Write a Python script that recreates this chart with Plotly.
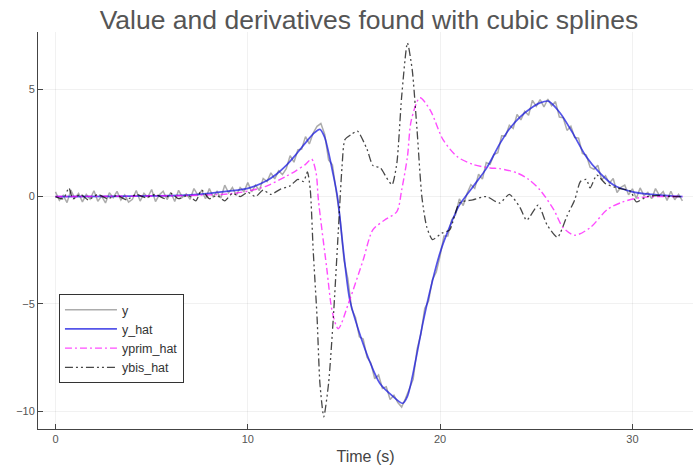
import numpy as np
import plotly.graph_objects as go

# ---- data ----
t_y = np.round(np.arange(0, 32.61, 0.2), 1)
y_vals = [
    0.22, -0.18, 0.05, -0.28, 0.30, -0.08, 0.15, -0.25, 0.10, -0.12, 0.27, -0.22, 0.02, -0.30, 0.18, -0.05, 0.24, -0.16, 0.08, -0.26,
    -0.13, 0.28, -0.21, 0.15, -0.03, 0.33, -0.23, 0.08, 0.25, -0.14, 0.19, -0.23, 0.29, -0.03, 0.13, -0.13, 0.37, 0.07, 0.28, -0.10,
    0.37, -0.01, 0.24, -0.07, 0.53, 0.17, 0.42, 0.05, 0.42, 0.23, 0.65, 0.22, 0.53, 0.28, 0.84, 0.70, 1.10, 0.82, 1.20, 1.02,
    1.30, 1.90, 1.60, 2.17, 2.21, 2.79, 2.45, 2.96, 3.27, 3.40, 2.89, 1.71, 1.48, 0.25, -1.04, -2.96, -3.82, -5.23, -5.63, -6.53,
    -6.63, -7.48, -7.75, -8.48, -8.30, -8.93, -8.85, -9.45, -9.25, -9.59, -9.80, -9.40, -8.98, -8.50, -7.12, -6.40, -5.21, -4.86, -3.87, -3.51,
    -2.75, -1.84, -1.84, -1.08, -0.86, -0.11, -0.42, 0.14, 0.55, 0.38, 1.04, 0.81, 1.58, 1.50, 1.96, 2.04, 2.83, 2.82, 3.32, 3.17,
    3.82, 3.57, 3.97, 3.78, 4.48, 4.20, 4.51, 4.17, 4.54, 4.23, 4.42, 3.70, 3.67, 3.08, 3.28, 2.75, 2.72, 2.01, 1.93, 1.36,
    1.27, 1.46, 0.78, 0.97, 0.62, 0.84, 0.19, 0.43, 0.53, 0.08, 0.36, -0.09, 0.40, 0.05, 0.19, -0.10, 0.37, 0.05, 0.23, -0.18,
    0.25, -0.15, 0.10, -0.20,
]

t_hat = [0, 3, 5, 7, 8, 9, 10, 11, 11.5, 12, 12.5, 13, 13.4, 13.75, 14.0, 14.2, 14.4, 14.66, 14.97, 15.3,
         15.75, 16.35, 16.87, 17.55, 18.05, 18.3, 18.7, 19.1, 19.58, 20.0, 20.5, 21.0, 21.7, 22.4, 23.1,
         23.6, 24.15, 24.7, 25.2, 25.63, 26.24, 26.9, 27.6, 28.3, 29.0, 30.0, 31.0, 32.0, 32.6]
y_hat = [0.0, 0.01, 0.03, 0.08, 0.15, 0.25, 0.38, 0.75, 1.05, 1.45, 1.95, 2.5, 2.92, 3.13, 2.75, 2.05, 1.2, 0.0, -2.5, -4.8,
         -6.2, -7.7, -8.7, -9.3, -9.62, -9.3, -7.75, -5.9, -4.0, -2.6, -1.4, -0.4, 0.45, 1.3, 2.45,
         3.15, 3.7, 4.1, 4.36, 4.44, 3.89, 2.95, 1.85, 1.1, 0.55, 0.22, 0.1, 0.03, 0.0]

t_prim = [0, 4, 7, 8, 9, 10, 11, 12, 12.5, 13.0, 13.32, 13.55, 13.67, 14.1, 14.4, 14.7, 15.3, 16.0, 16.5, 17.1,
          17.75, 18.0, 18.3, 18.5, 18.95, 19.5, 20.15, 20.9, 21.7, 22.6, 23.1, 24.0, 24.6, 25.2, 25.9,
          26.4, 27.0, 27.8, 28.7, 29.5, 30.4, 31.5, 32.6]
yprim_hat = [0.0, 0.02, 0.05, 0.08, 0.12, 0.25, 0.5, 0.95, 1.2, 1.5, 1.74, 1.1, -0.15, -3.3, -5.4, -6.15, -4.8, -2.95, -1.55, -1.1,
             -0.7, 0.3, 1.85, 3.55, 4.6, 4.0, 2.65, 1.85, 1.5, 1.33, 1.3, 1.1, 0.8, 0.3, -0.6,
             -1.45, -1.8, -1.45, -0.6, -0.25, -0.05, 0.0, 0.0]

t_bis = [0, 0.4, 0.7, 0.9, 1.3, 1.7, 2.2, 2.7, 3.2, 3.7, 4.2, 4.7, 5.2, 5.7, 6.0, 6.4, 6.9, 7.3, 7.6, 8.0,
         8.4, 8.8, 9.2, 9.6, 10.0, 10.4, 10.8, 11.2, 11.7, 12.2, 12.6, 12.9, 13.1, 13.25, 13.4, 13.6, 13.75,
         13.95, 14.2, 14.45, 14.7, 14.9, 15.05, 15.4, 15.7, 16.2, 16.5, 16.9, 17.2, 17.5, 17.75, 18.0,
         18.3, 18.55, 18.8, 19.05, 19.3, 19.6, 20.1, 20.5, 21.0, 21.7, 22.4, 23.1, 23.6, 24.15, 24.5,
         25.1, 25.55, 26.1, 26.6, 27.0, 27.3, 27.6, 27.8, 28.15, 28.6, 29.2, 29.9, 30.2, 30.75, 31.3, 32.0, 32.6]
ybis_hat = [0.0, -0.1, 0.4, -0.1, 0.1, -0.15, 0.1, -0.1, 0.05, -0.15, 0.1, -0.05, 0.1, -0.1, 0.15, -0.1, 0.05, -0.2, 0.3, -0.1,
            0.05, -0.2, 0.15, 0.0, 0.2, 0.0, 0.3, 0.1, 0.35, 0.5, 0.8, 0.7, 1.15, 0.3, -2.5, -5.6, -8.7,
            -10.25, -8.7, -5.6, -1.7, 1.4, 2.65, 2.9, 3.05, 2.2, 1.45, 1.33, 0.9, 0.55, 1.55, 4.65,
            7.15, 5.9, 3.1, 0.0, -1.4, -2.0, -1.7, -1.55, -0.3, -0.15, 0.0, -0.3, 0.1, -0.5, -1.1,
            -0.4, -1.3, -1.9, -0.9, -0.15, 0.7, 0.8, 0.4, 1.0, 0.6, 0.4, 0.25, -0.25, 0.0, 0.05, 0.0, 0.0]

x_ticks = [0, 10, 20, 30]
y_ticks = [-10, -5, 0, 5]

fig = go.Figure()
fig.add_trace(go.Scatter(x=t_y, y=y_vals, mode="lines", name="y",
                         line=dict(color="rgba(90,90,90,0.5)", width=1.5)))
fig.add_trace(go.Scatter(x=t_hat, y=y_hat, mode="lines", name="y_hat",
                         line=dict(color="rgba(20,20,225,0.72)", width=1.7, shape="spline", smoothing=0.8)))
fig.add_trace(go.Scatter(x=t_prim, y=yprim_hat, mode="lines", name="yprim_hat",
                         line=dict(color="rgba(255,0,255,0.7)", width=1.4, dash="7px,3px,2px,3px",
                                   shape="spline", smoothing=0.8)))
fig.add_trace(go.Scatter(x=t_bis, y=ybis_hat, mode="lines", name="ybis_hat",
                         line=dict(color="rgba(0,0,0,0.72)", width=1.3, dash="8px,3px,2px,3px,2px,3px",
                                   shape="spline", smoothing=0.6)))

font_family = "Liberation Sans, Arial, sans-serif"
axis_common = dict(showline=True, linecolor="#444", linewidth=1, ticks="inside", ticklen=5,
                   tickcolor="#444", showgrid=True, gridcolor="rgba(0,0,0,0.055)", gridwidth=1,
                   zeroline=False, mirror=False, tickfont=dict(size=11, color="#555", family=font_family))

fig.update_layout(
    width=693, height=475,
    margin=dict(l=38, r=0, t=32, b=46),
    paper_bgcolor="white", plot_bgcolor="white",
    title=dict(text="Value and derivatives found with cubic splines", x=369 / 693, xref="container",
               xanchor="center", y=0.958, yref="container", yanchor="middle",
               font=dict(size=26.5, color="#555", family=font_family)),
    xaxis=dict(range=[-0.91, 33.15], tickvals=x_ticks,
               title=dict(text="Time (s)", font=dict(size=16, color="#444", family=font_family), standoff=6),
               **axis_common),
    yaxis=dict(range=[-10.82, 7.66], tickvals=y_ticks, **axis_common),
    legend=dict(x=0.032, y=0.34, xanchor="left", yanchor="top", bgcolor="white",
                bordercolor="#333", borderwidth=1, font=dict(size=12.5, color="#333", family=font_family),
                itemwidth=52, tracegroupgap=0),
    showlegend=True,
)

fig.write_html("out.html")
